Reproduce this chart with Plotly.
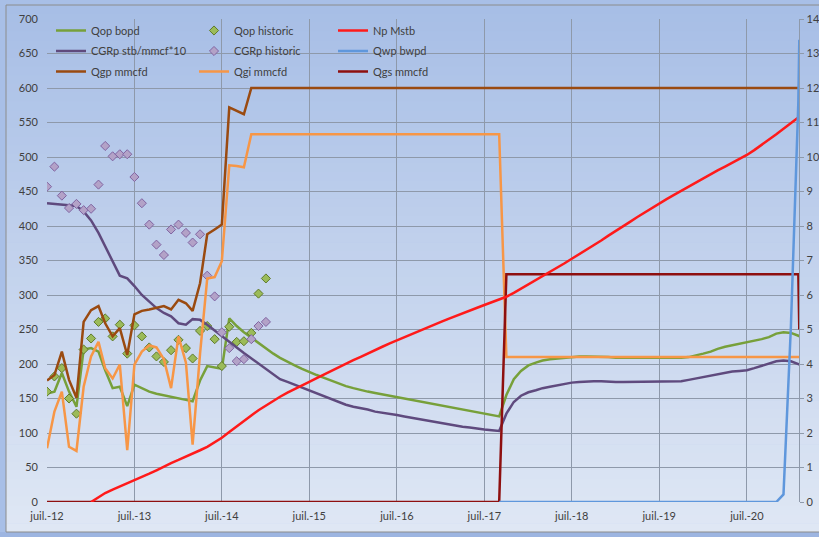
import pandas as pd
import plotly.graph_objects as go

# ---- data -------------------------------------------------------------
# monthly forecast dates (Jul 2012 .. Feb 2021) plus the final report date
dates = list(pd.date_range("2012-07-01", "2021-02-01", freq="MS")) + [pd.Timestamp("2021-02-05")]
hist_dates = dates[:31]

x_tick_dates = ["2012-07-01", "2013-07-01", "2014-07-01", "2015-07-01", "2016-07-01",
                "2017-07-01", "2018-07-01", "2019-07-01", "2020-07-01"]
x_tick_text = ["juil.-12", "juil.-13", "juil.-14", "juil.-15", "juil.-16",
               "juil.-17", "juil.-18", "juil.-19", "juil.-20"]

qop_bopd = [
    157, 160, 187, 160, 138, 221,
    223, 218, 191, 165, 167, 139,
    170, 165, 160, 157, 155, 152,
    150, 148, 146, 176, 197, 195,
    193, 266, 255, 246, 238, 231,
    222, 215, 209, 203, 198, 193,
    188, 184, 180, 176, 172, 168,
    165, 162, 160, 158, 156, 154,
    152, 150, 148, 146, 144, 142,
    140, 138, 136, 134, 132, 130,
    128, 126, 124, 155, 178, 190,
    198, 202, 205, 207, 208, 209,
    210, 211, 211, 211, 210, 210,
    209, 209, 209, 209, 209, 209,
    208, 209, 209, 209, 210, 212,
    215, 218, 222, 225, 227, 229,
    231, 234, 236, 239, 244, 246,
    245, 241, 240,
]

cgrp = [
    433, 432, 432, 431, 429, 421,
    408, 390, 370, 350, 328, 324,
    313, 300, 290, 281, 274, 269,
    259, 257, 265, 264, 257, 249,
    241, 233, 224, 216, 208, 200,
    192, 185, 178, 174, 170, 165,
    161, 157, 153, 149, 145, 141,
    138, 136, 134, 131, 129, 128,
    126, 124, 122, 120, 119, 117,
    115, 113, 111, 109, 108, 106,
    105, 104, 103, 128, 145, 154,
    159, 162, 165, 167, 169, 171,
    173, 174, 175, 175, 175, 174,
    174, 174, 174, 174, 174, 174,
    174, 174, 174, 175, 177, 179,
    181, 183, 185, 187, 189, 190,
    191, 194, 197, 200, 204, 205,
    204, 200, 199,
]

qgp_mmcfd = [
    176, 184, 218, 177, 151, 261,
    278, 284, 259, 240, 252, 213,
    272, 277, 279, 282, 284, 279,
    293, 288, 277, 317, 388, 395,
    402, 572, 567, 562,
] + [600] * 77

qgi_mmcfd = [
    78, 131, 160, 80, 74, 167,
    211, 232, 194, 179, 199, 75,
    199, 218, 227, 224, 207, 165,
    240, 202, 83, 215, 324, 326,
    349, 488, 487, 485,
] + [533] * 35 + [210] * 42

qgs_mmcfd = [0] * 63 + [330] * 41 + [250]

np_mstb = [None] * 6 + [
    0.00, 0.14, 0.26, 0.36, 0.45, 0.53,
    0.64, 0.73, 0.82, 0.92, 1.03, 1.13,
    1.22, 1.31, 1.40, 1.50, 1.60, 1.72,
    1.86, 2.03, 2.20, 2.36, 2.51, 2.66,
    2.80, 2.93, 3.05, 3.17, 3.28, 3.38,
    3.48, 3.59, 3.70, 3.80, 3.91, 4.01,
    4.11, 4.21, 4.31, 4.41, 4.50, 4.60,
    4.69, 4.78, 4.87, 4.96, 5.05, 5.14,
    5.22, 5.31, 5.39, 5.47, 5.55, 5.63,
    5.71, 5.79, 5.87, 5.95, 6.06, 6.18,
    6.30, 6.42, 6.55, 6.67, 6.80, 6.92,
    7.05, 7.18, 7.31, 7.45, 7.58, 7.72,
    7.85, 7.99, 8.12, 8.26, 8.39, 8.53,
    8.66, 8.78, 8.90, 9.02, 9.14, 9.26,
    9.38, 9.49, 9.61, 9.72, 9.83, 9.95,
    10.06, 10.20, 10.35, 10.50, 10.66, 10.82,
    10.98, 11.14, 11.17,
]

qwp_bwpd = [None] * 62 + [0] * 39 + [0.22, 5.1, 11.6, 13.4]

qop_hist = [160, 182, 194, 150, 128, 221, 237, 261, 266, 240, 257, 215, 256, 240, 224, 211,
            203, 220, 235, 223, 208, 248, 255, 236, 197, 254, 232, 233, 245, 302, 324]
cgrp_hist = [457, 486, 444, 426, 432, 423, 425, 460, 516, 501, 504, 504, 471, 433, 402, 373,
             358, 395, 402, 390, 376, 388, 328, 298, 246, 223, 204, 207, 236, 255, 261]

# ---- layout helpers (pixel -> paper) ---------------------------------
W, H = 819, 537
def px(x):
    return x / W
def py(y):
    return 1 - y / H

FONT = "Lato"
TXT = "#404040"
LW = 2.5

fig = go.Figure()

def line(name, y, color, legend, rank, axis="y", width=LW):
    fig.add_trace(go.Scatter(
        x=dates, y=y, name=name, mode="lines", yaxis=axis,
        line=dict(color=color, width=width), legend=legend, legendrank=rank,
        legendgroup=name, connectgaps=False, hoverinfo="skip"))

line("Qop bopd", qop_bopd, "#77a03a", "legend", 1)
fig.add_trace(go.Scatter(
    x=hist_dates, y=qop_hist, name="Qop historic", mode="markers",
    marker=dict(symbol="diamond", size=7, color="#9bbb59", line=dict(color="#5f7a2a", width=1)),
    legend="legend2", legendrank=1, legendgroup="Qop historic", hoverinfo="skip"))
line("CGRp stb/mmcf*10", cgrp, "#5f4a7e", "legend", 2)
fig.add_trace(go.Scatter(
    x=hist_dates, y=cgrp_hist, name="CGRp historic", mode="markers",
    marker=dict(symbol="diamond", size=7, color="#b3a2c7", line=dict(color="#8064a2", width=1)),
    legend="legend2", legendrank=2, legendgroup="CGRp historic", hoverinfo="skip"))
line("Qgp mmcfd", qgp_mmcfd, "#9a4a10", "legend", 3)
line("Qgi mmcfd", qgi_mmcfd, "#f79646", "legend2", 3)
line("Qgs mmcfd", qgs_mmcfd, "#8e0f0f", "legend3", 3)
line("Np Mstb", np_mstb, "#ff1a1a", "legend3", 1, axis="y2")
line("Qwp bwpd", qwp_bwpd, "#5f97dc", "legend3", 2, axis="y2")

# ---- background: chart-area gradient ---------------------------------
shapes = []
top_c = (0xA7, 0xBE, 0xE6)
bot_c = (0xDF, 0xE7, 0xF4)
y0, y1 = 5.0, 532.0
n = 60
for i in range(n):
    t = i / (n - 1)
    c = tuple(round(top_c[k] + (bot_c[k] - top_c[k]) * t) for k in range(3))
    ya = y0 + (y1 - y0) * i / n
    yb = y0 + (y1 - y0) * (i + 1) / n + 0.6
    shapes.append(dict(type="rect", xref="paper", yref="paper", layer="below",
                       x0=px(6), x1=1.01, y0=py(yb), y1=py(ya),
                       fillcolor="rgb(%d,%d,%d)" % c, line=dict(width=0)))
shapes.append(dict(type="rect", xref="paper", yref="paper", layer="below",
                   x0=-0.01, x1=1.01, y0=-0.01, y1=py(532),
                   fillcolor="#9db5e1", line=dict(width=0)))
shapes.append(dict(type="rect", xref="paper", yref="paper", layer="below",
                   x0=px(6), x1=1.01, y0=py(532), y1=py(5),
                   fillcolor="rgba(0,0,0,0)", line=dict(color="#8c8c8c", width=1)))

GRID = "#8e99aa"
legend_common = dict(yanchor="top", xanchor="left", bgcolor="rgba(0,0,0,0)",
                     font=dict(family=FONT, size=11, color=TXT), orientation="v",
                     tracegroupgap=1.5, itemwidth=30)

fig.update_layout(
    width=W, height=H, autosize=False,
    margin=dict(l=0, r=0, t=0, b=0, autoexpand=False),
    paper_bgcolor="#a8bfe7", plot_bgcolor="rgba(0,0,0,0)",
    font=dict(family=FONT, size=11, color=TXT),
    shapes=shapes,
    showlegend=True,
    legend=dict(x=px(51), y=py(16), **legend_common),
    legend2=dict(x=px(194), y=py(16), **legend_common),
    legend3=dict(x=px(333), y=py(16), **legend_common),
    xaxis=dict(
        type="date", domain=[px(47), px(799.3)], automargin=False,
        range=["2012-07-01", "2021-02-05"],
        tickmode="array", tickvals=x_tick_dates, ticktext=x_tick_text,
        showgrid=True, gridcolor=GRID, gridwidth=1,
        zeroline=False, showline=False, ticks="", ticklabelstandoff=6,
        tickfont=dict(family=FONT, size=11, color=TXT),
    ),
    yaxis=dict(
        domain=[py(502), py(19)], range=[0, 700], dtick=50, tick0=0, automargin=False,
        showgrid=True, gridcolor=GRID, gridwidth=1, zeroline=False,
        showline=False, ticks="", ticklabelstandoff=8,
        tickfont=dict(family=FONT, size=11, color=TXT),
    ),
    yaxis2=dict(
        overlaying="y", side="right", range=[0, 14], dtick=1, tick0=0, automargin=False,
        showgrid=False, zeroline=False, showline=True, linecolor=GRID, linewidth=1,
        ticks="outside", ticklen=4, tickcolor=GRID,
        tickfont=dict(family=FONT, size=11, color=TXT),
    ),
)

fig.write_html("out.html")
